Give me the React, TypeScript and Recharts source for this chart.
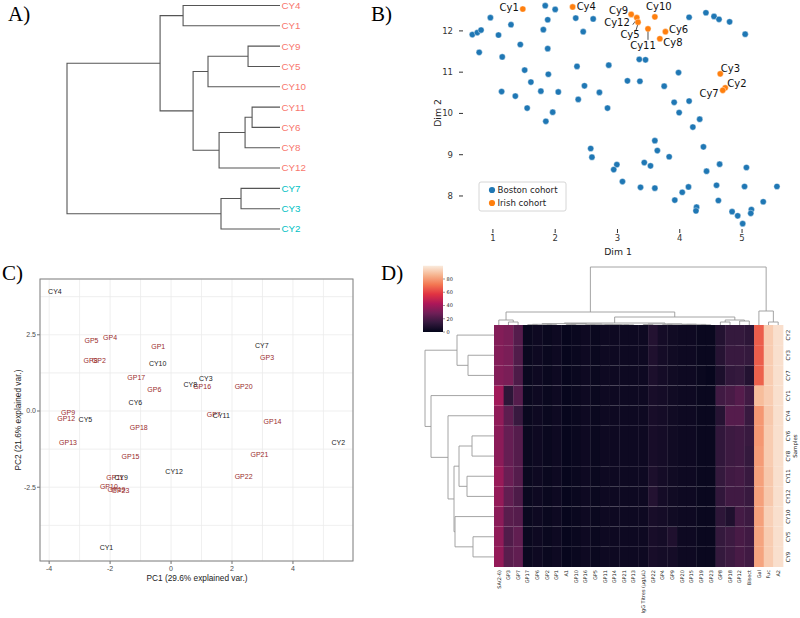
import React from 'react';
import { ScatterChart, Scatter, XAxis, YAxis, CartesianGrid, BarChart, Bar, Cell } from 'recharts';

type Tree = string | { h: number; kids: [Tree, Tree] };
type Pt = { x: number; y: number };
const join = (h: number, a: Tree, b: Tree): Tree => ({ h, kids: [a, b] });

// ---------- A) hierarchical clustering of the samples
const sampleOrder = ['CY4', 'CY1', 'CY9', 'CY5', 'CY10', 'CY11', 'CY6', 'CY8', 'CY12', 'CY7', 'CY3', 'CY2'];
const tealSamples = ['CY7', 'CY3', 'CY2'];
const sampleTree = join(10,
  join(5.63,
    join(4.55, 'CY4', 'CY1'),
    join(4.08,
      join(3.38, join(1.5, 'CY9', 'CY5'), 'CY10'),
      join(2.86, join(1.64, join(1.31, 'CY11', 'CY6'), 'CY8'), 'CY12'))),
  join(2.77, join(1.83, 'CY7', 'CY3'), 'CY2'));

// ---------- B) embedding
const bostonDim1 = [
  0.67, 0.75, 0.81, 0.96, 0.78, 1.09, 1.29, 1.15, 1.44, 1.84,
  2.0, 1.88, 1.81, 1.88, 1.51, 1.89, 1.61, 1.14, 1.36, 1.77,
  2.05, 1.55, 1.96, 1.85, 2.33, 2.61, 2.45, 2.35, 2.86, 2.47,
  2.37, 2.71, 2.84, 3.35, 3.45, 3.16, 3.36, 3.75, 3.98, 4.15,
  4.42, 4.55, 4.63, 4.8, 5.05, 3.91, 4.15, 3.99, 4.32, 4.21,
  2.57, 2.59, 2.99, 2.94, 3.08, 3.6, 3.64, 3.83, 3.43, 3.53,
  3.37, 3.6, 3.92, 4.04, 4.14, 4.38, 4.43, 4.64, 4.59, 4.62,
  4.27, 4.26, 5.07, 5.04, 4.84, 4.93, 5.15, 5.14, 5.01, 5.34, 5.56,
];
const bostonDim2 = [
  11.91, 11.96, 12.02, 12.32, 11.48, 11.9, 12.15, 11.37, 11.67, 12.61,
  12.52, 12.27, 12.03, 11.57, 11.05, 10.95, 10.76, 10.53, 10.42, 10.54,
  10.52, 10.13, 10.03, 9.81, 12.31, 12.29, 11.98, 11.14, 11.17, 10.67,
  10.34, 10.51, 10.13, 11.31, 11.3, 10.79, 10.78, 10.66, 10.99, 12.33,
  12.44, 12.35, 12.28, 12.22, 11.92, 10.27, 10.3, 10.02, 9.86, 9.67,
  9.15, 8.94, 8.76, 8.64, 8.35, 9.34, 9.1, 8.95, 8.81, 8.73,
  8.21, 8.19, 7.9, 8.09, 8.22, 9.19, 8.6, 8.77, 8.26, 7.89,
  7.73, 7.64, 8.69, 8.23, 7.62, 7.52, 7.67, 7.58, 7.33, 7.86, 8.23,
];
const irishNames = ['Cy1', 'Cy4', 'Cy9', 'Cy12', 'Cy5', 'Cy10', 'Cy11', 'Cy6', 'Cy8', 'Cy3', 'Cy2', 'Cy7'];
const irishDim1 = [1.48, 2.28, 3.22, 3.31, 3.33, 3.6, 3.49, 3.77, 3.68, 4.65, 4.73, 4.69];
const irishDim2 = [12.53, 12.58, 12.4, 12.32, 12.21, 12.34, 12.05, 11.98, 11.81, 10.96, 10.62, 10.56];
const dimTicks1 = [1, 2, 3, 4, 5];
const dimTicks2 = [8, 9, 10, 11, 12];

// ---------- C) PCA biplot
const gpNames = ['GP1', 'GP2', 'GP3', 'GP4', 'GP5', 'GP6', 'GP7', 'GP8', 'GP9', 'GP10', 'GP11', 'GP12',
  'GP13', 'GP14', 'GP15', 'GP16', 'GP17', 'GP18', 'GP19', 'GP20', 'GP21', 'GP22', 'GP23'];
const gpPc1 = [-0.42, -2.37, 3.15, -2.0, -2.61, -0.55, 1.4, -2.64, -3.38, -2.04, -1.84, -3.44,
  -3.38, 3.33, -1.33, 1.02, -1.14, -1.06, -1.79, 2.38, 2.9, 2.38, -1.66];
const gpPc2 = [2.13, 1.67, 1.75, 2.42, 2.32, 0.72, -0.1, 1.67, -0.04, -2.47, -2.17, -0.25,
  -1.03, -0.35, -1.51, 0.81, 1.1, -0.54, -2.56, 0.79, -1.43, -2.15, -2.61];
const cyNames = ['CY1', 'CY2', 'CY3', 'CY4', 'CY5', 'CY6', 'CY7', 'CY8', 'CY9', 'CY10', 'CY11', 'CY12'];
const cyPc1 = [-2.12, 5.49, 1.14, -3.81, -2.81, -1.17, 2.98, 0.63, -1.64, -0.44, 1.65, 0.1];
const cyPc2 = [-4.49, -1.02, 1.08, 3.93, -0.28, 0.28, 2.15, 0.86, -2.19, 1.57, -0.16, -1.97];
const pcTicks1 = [-4, -3, -2, -1, 0, 1, 2, 3, 4, 5];
const pcTicks2 = [-3.75, -2.5, -1.25, 0, 1.25, 2.5, 3.75];

// ---------- D) clustered heatmap
const heatCols = ['SA(2-6)', 'GP3', 'GP7', 'GP17', 'GP6', 'GP2', 'GP1', 'A1', 'GP10', 'GP16', 'GP5', 'GP11',
  'GP14', 'GP21', 'GP13', 'IgG Titres (μg/μL)', 'GP22', 'GP4', 'GP9', 'GP20', 'GP15', 'GP19', 'GP23',
  'GP8', 'GP18', 'GP12', 'Bisect', 'Gal', 'Fuc', 'A2'];
const heatRows = ['CY2', 'CY3', 'CY7', 'CY1', 'CY4', 'CY6', 'CY8', 'CY11', 'CY12', 'CY10', 'CY5', 'CY9'];
const heatValues = [
  [33, 31, 22, 2, 3, 2, 3, 1, 2, 3, 2, 3, 3, 3, 3, 3, 9, 5, 4, 3, 3, 2, 2, 9, 14, 14, 12, 66, 92, 97],
  [33, 31, 21, 2, 3, 2, 3, 1, 2, 3, 2, 3, 3, 3, 3, 3, 8, 5, 4, 3, 3, 2, 2, 10, 15, 15, 14, 66, 92, 97],
  [33, 31, 20, 2, 3, 2, 3, 1, 2, 3, 2, 3, 3, 3, 3, 3, 7, 5, 4, 3, 3, 2, 1, 7, 13, 14, 9, 67, 92, 97],
  [40, 12, 22, 2, 3, 2, 3, 1, 2, 3, 2, 3, 3, 3, 3, 3, 6, 5, 4, 3, 3, 2, 2, 17, 19, 22, 17, 88, 92, 97],
  [36, 24, 15, 2, 3, 2, 3, 1, 2, 3, 2, 3, 3, 3, 3, 3, 6, 5, 4, 3, 3, 2, 2, 10, 22, 22, 15, 79, 91, 97],
  [35, 26, 22, 2, 3, 2, 3, 1, 2, 3, 2, 3, 3, 3, 3, 3, 6, 5, 4, 3, 3, 2, 2, 13, 16, 17, 15, 79, 92, 97],
  [35, 26, 22, 2, 3, 2, 3, 1, 2, 3, 2, 3, 3, 3, 3, 3, 6, 5, 4, 3, 3, 2, 2, 13, 16, 17, 14, 80, 92, 97],
  [38, 27, 22, 2, 3, 2, 3, 1, 2, 3, 2, 3, 3, 3, 3, 3, 7, 5, 4, 3, 3, 2, 2, 14, 17, 18, 15, 81, 91, 97],
  [37, 25, 20, 2, 3, 2, 3, 1, 2, 3, 2, 3, 3, 3, 3, 3, 9, 5, 4, 3, 3, 2, 2, 13, 17, 17, 15, 81, 91, 97],
  [35, 23, 22, 2, 3, 2, 3, 1, 2, 3, 2, 3, 3, 3, 3, 3, 6, 5, 4, 3, 3, 2, 2, 12, 8, 18, 16, 81, 93, 97],
  [36, 21, 25, 2, 3, 2, 3, 1, 2, 3, 2, 3, 3, 3, 3, 3, 6, 5, 8, 3, 3, 2, 2, 14, 16, 19, 17, 82, 92, 97],
  [37, 23, 25, 2, 3, 2, 3, 1, 2, 3, 2, 3, 3, 3, 3, 3, 6, 5, 5, 3, 3, 2, 2, 14, 16, 19, 17, 82, 92, 97],
];
const colTree = join(58,
  join(13,
    join(5, 'SA(2-6)', join(3, 'GP3', 'GP7')),
    join(8,
      join(2,
        join(1.4,
          join(0.7, join(0.4, 'GP17', 'GP6'), join(0.3, 'GP2', 'GP1')),
          join(1.0, join(0.5, 'A1', 'GP10'),
            join(0.7, join(0.3, 'GP16', 'GP5'), join(0.5, 'GP11', join(0.3, 'GP14', join(0.2, 'GP21', 'GP13')))))),
        join(1.1, join(0.5, 'IgG Titres (μg/μL)', 'GP22'),
          join(0.8, join(0.3, 'GP4', 'GP9'), join(0.6, join(0.4, 'GP20', 'GP15'), join(0.2, 'GP19', 'GP23'))))),
      join(5, join(3, 'GP8', 'GP18'), join(4, 'GP12', 'Bisect')))),
  join(14, 'Gal', join(3, 'Fuc', 'A2')));
const rowTree = join(69,
  join(37, 'CY2', join(26, 'CY3', 'CY7')),
  join(63, 'CY1',
    join(46, 'CY4',
      join(40,
        join(35, join(22, 'CY6', 'CY8'), join(27, 'CY11', 'CY12')),
        join(39, 'CY10', join(21, 'CY5', 'CY9'))))));
const colorbarTicks = [0, 20, 40, 60, 80];
const rocketStops = ['#03051A', '#35193E', '#701F57', '#AD1759', '#E13342', '#F37651', '#F6B48F', '#FAEBDD'];

// ---------- helpers
function dendroLinks(tree: Tree, order: string[], offset: number, vertical: boolean): Pt[][] {
  const links: Pt[][] = [];
  const walk = (t: Tree): { h: number; p: number } => {
    if (typeof t === 'string') return { h: 0, p: order.indexOf(t) + offset };
    const a = walk(t.kids[0]);
    const b = walk(t.kids[1]);
    const raw = [[a.p, a.h], [a.p, t.h], [b.p, t.h], [b.p, b.h]];
    links.push(raw.map(([p, h]) => (vertical ? { x: p, y: h } : { x: h, y: p })));
    return { h: t.h, p: (a.p + b.p) / 2 };
  };
  walk(tree);
  return links;
}

const hex = (c: string) => [1, 3, 5].map((i) => parseInt(c.slice(i, i + 2), 16));
function rocket(t: number) {
  const u = Math.max(0, Math.min(1, t)) * (rocketStops.length - 1);
  const i = Math.min(Math.floor(u), rocketStops.length - 2);
  const f = u - i;
  const a = hex(rocketStops[i]);
  const b = hex(rocketStops[i + 1]);
  const m = a.map((v, k) => Math.round(v + (b[k] - v) * f));
  return `rgb(${m[0]},${m[1]},${m[2]})`;
}

const noDot = () => <g />;
const SANS = 'Liberation Sans, Arial, sans-serif';
const DJV = 'DejaVu Sans, sans-serif';

const sampleLinks = dendroLinks(sampleTree, sampleOrder, 0, false);
const sampleLeaves = sampleOrder.map((name, i) => ({ x: 0, y: i, name }));
const bostonData = bostonDim1.map((x, i) => ({ x, y: bostonDim2[i] }));
const irishData = irishNames.map((name, i) => ({ x: irishDim1[i], y: irishDim2[i], name }));
const gpData = gpNames.map((name, i) => ({ x: gpPc1[i], y: gpPc2[i], name }));
const cyData = cyNames.map((name, i) => ({ x: cyPc1[i], y: cyPc2[i], name }));
const colLinks = dendroLinks(colTree, heatCols, 0.5, true);
const rowLinks = dendroLinks(rowTree, heatRows, 0.5, false);
const rowsBottomUp = [...heatRows].reverse();
const heatTable = heatCols.map((name) => ({ name, ...Object.fromEntries(heatRows.map((r) => [r, 1])) }));

// where each Irish label sits relative to its point
const irishLabelPlace: Record<string, { dx: number; dy: number; anchor: 'start' | 'middle' | 'end'; lead?: number[] }> = {
  Cy1: { dx: -4, dy: -2, anchor: 'end' },
  Cy4: { dx: 4, dy: 0, anchor: 'start' },
  Cy9: { dx: -3, dy: -4, anchor: 'end' },
  Cy12: { dx: -7, dy: 5.3, anchor: 'end', lead: [-1, 3, -4, 7] },
  Cy5: { dx: -8, dy: 12, anchor: 'middle', lead: [-0.5, 3, -2, 8] },
  Cy10: { dx: 4, dy: -10, anchor: 'middle' },
  Cy11: { dx: -5, dy: 17, anchor: 'middle', lead: [0, 3, 0, 11] },
  Cy6: { dx: 3.5, dy: -2, anchor: 'start' },
  Cy8: { dx: 3.5, dy: 3.7, anchor: 'start' },
  Cy3: { dx: 0.5, dy: -5.7, anchor: 'start' },
  Cy2: { dx: 2, dy: -4.3, anchor: 'start' },
  Cy7: { dx: -4, dy: 3.3, anchor: 'end' },
};

const IrishDot = (p: any) => {
  const s = irishLabelPlace[p.payload.name];
  return (
    <g>
      <circle cx={p.cx} cy={p.cy} r={3.1} fill="#ff7f0e" stroke="#fff" strokeWidth={0.4} />
      {s.lead && (
        <line x1={p.cx + s.lead[0]} y1={p.cy + s.lead[1]} x2={p.cx + s.lead[2]} y2={p.cy + s.lead[3]} stroke="#222" strokeWidth={0.8} />
      )}
      <text x={p.cx + s.dx} y={p.cy + s.dy} dy="0.35em" textAnchor={s.anchor} fontSize={10} fontFamily={DJV} fill="#111">
        {p.payload.name}
      </text>
    </g>
  );
};

const PcXTick = (p: any) => {
  const v = p.payload.value;
  if (v % 2 !== 0) return <g />;
  return (
    <g>
      <line x1={p.x} x2={p.x} y1={p.y - 5} y2={p.y - 2} stroke="#333" strokeWidth={0.7} />
      <text x={p.x} y={p.y} dy="0.71em" textAnchor="middle" fontSize={7} fill="#4d4d4d" fontFamily={SANS}>{v}</text>
    </g>
  );
};
const PcYTick = (p: any) => {
  const v = p.payload.value;
  if (Math.abs(v % 2.5) > 1e-9) return <g />;
  return (
    <g>
      <line x1={p.x + 2} x2={p.x + 5} y1={p.y} y2={p.y} stroke="#333" strokeWidth={0.7} />
      <text x={p.x + 1} y={p.y} dy="0.35em" textAnchor="end" fontSize={7} fill="#4d4d4d" fontFamily={SANS}>{v.toFixed(1)}</text>
    </g>
  );
};
const HeatColTick = (p: any) => (
  <text x={p.x} y={p.y} transform={`rotate(-90 ${p.x} ${p.y})`} dy="0.35em" textAnchor="end" fontSize={5} fill="#222" fontFamily={DJV}>
    {p.payload.value}
  </text>
);
const HeatRowTick = (p: any) => {
  const name = rowsBottomUp[Math.floor(p.payload.value)];
  const x = p.x + 2;
  return (
    <text x={x} y={p.y} transform={`rotate(-90 ${x} ${p.y})`} dy="0.35em" textAnchor="middle" fontSize={5.5} fill="#222" fontFamily={DJV}>
      {name}
    </text>
  );
};

const box = (left: number, top: number): React.CSSProperties => ({ position: 'absolute', left, top });

export default function App() {
  return (
    <div style={{ position: 'absolute', left: 0, top: 0, width: 800, height: 618, background: '#fff', overflow: 'hidden' }}>
      {/* A */}
      <div style={box(0, 0)}>
        <ScatterChart width={400} height={245} margin={{ top: 5.5, right: 120, bottom: 16, left: 67 }}>
          <XAxis type="number" dataKey="x" domain={[0, 10]} reversed hide />
          <YAxis type="number" dataKey="y" domain={[0, 11]} reversed hide />
          {sampleLinks.map((pts, i) => (
            <Scatter key={'a' + i} data={pts} fill="none" shape={noDot} line={{ stroke: '#555', strokeWidth: 1.1 }} isAnimationActive={false} />
          ))}
          <Scatter
            data={sampleLeaves}
            isAnimationActive={false}
            shape={(p: any) => (
              <text x={p.cx + 1.5} y={p.cy} dy="0.35em" fontSize={9.8} fontFamily={SANS}
                fill={tealSamples.includes(p.payload.name) ? '#00BFC4' : '#F8766D'}>
                {p.payload.name}
              </text>
            )}
          />
        </ScatterChart>
      </div>

      {/* B */}
      <div style={box(400, 0)}>
        <ScatterChart width={400} height={262} margin={{ top: 2, right: 5, bottom: 13, left: 23 }}>
          <XAxis type="number" dataKey="x" domain={[0.52, 5.85]} ticks={dimTicks1} height={20} axisLine={false}
            tickSize={4} tickMargin={2} tickLine={{ stroke: '#333' }} tick={{ fontSize: 8.5, fill: '#333', fontFamily: DJV }} />
          <YAxis type="number" dataKey="y" domain={[7.2, 12.7]} ticks={dimTicks2} width={40} axisLine={false}
            tickSize={4} tickMargin={6} tickLine={{ stroke: '#333' }} tick={{ fontSize: 8.5, fill: '#333', fontFamily: DJV }} />
          <Scatter data={bostonData} isAnimationActive={false}
            shape={(p: any) => <circle cx={p.cx} cy={p.cy} r={3.1} fill="#1f77b4" stroke="#fff" strokeWidth={0.4} />} />
          <Scatter data={irishData} isAnimationActive={false} shape={IrishDot} />
        </ScatterChart>
      </div>

      {/* C */}
      <div style={box(0, 270)}>
        <ScatterChart width={370} height={320} margin={{ top: 9, right: 17, bottom: 14, left: 15 }}>
          <CartesianGrid stroke="#ebebeb" strokeWidth={0.8} />
          <XAxis type="number" dataKey="x" domain={[-4.3, 5.97]} ticks={pcTicks1} interval={0} height={15}
            axisLine={false} tickLine={false} tickSize={3} tickMargin={2} tick={<PcXTick />} />
          <YAxis type="number" dataKey="y" domain={[-4.92, 4.33]} ticks={pcTicks2} interval={0} width={25}
            axisLine={false} tickLine={false} tickSize={3} tickMargin={2} tick={<PcYTick />} />
          <Scatter data={gpData} isAnimationActive={false}
            shape={(p: any) => (
              <text x={p.cx} y={p.cy} dy="0.35em" textAnchor="middle" fontSize={7} fontFamily={SANS} fill="#9b2c2c">
                {p.payload.name}
              </text>
            )} />
          <Scatter data={cyData} isAnimationActive={false}
            shape={(p: any) => (
              <text x={p.cx} y={p.cy} dy="0.35em" textAnchor="middle" fontSize={7} fontFamily={SANS} fill="#1a1a1a">
                {p.payload.name}
              </text>
            )} />
        </ScatterChart>
      </div>

      {/* D: column dendrogram */}
      <div style={box(480, 255)}>
        <ScatterChart width={320} height={75} margin={{ top: 12, right: 17, bottom: 5, left: 14 }}>
          <XAxis type="number" dataKey="x" domain={[0, heatCols.length]} hide />
          <YAxis type="number" dataKey="y" domain={[0, 58]} hide />
          {colLinks.map((pts, i) => (
            <Scatter key={'c' + i} data={pts} fill="none" shape={noDot} line={{ stroke: '#9a9a9a', strokeWidth: 0.9 }} isAnimationActive={false} />
          ))}
        </ScatterChart>
      </div>

      {/* D: row dendrogram */}
      <div style={box(415, 320)}>
        <ScatterChart width={85} height={252} margin={{ top: 5, right: 6, bottom: 5, left: 10 }}>
          <XAxis type="number" dataKey="x" domain={[0, 69]} reversed hide />
          <YAxis type="number" dataKey="y" domain={[0, heatRows.length]} reversed hide />
          {rowLinks.map((pts, i) => (
            <Scatter key={'r' + i} data={pts} fill="none" shape={noDot} line={{ stroke: '#9a9a9a', strokeWidth: 0.9 }} isAnimationActive={false} />
          ))}
        </ScatterChart>
      </div>

      {/* D: heatmap */}
      <div style={box(480, 300)}>
        <BarChart width={320} height={318} data={heatTable} margin={{ top: 25, right: 7, bottom: 6, left: 14 }} barCategoryGap={0} barGap={0}>
          <XAxis dataKey="name" type="category" interval={0} height={45} axisLine={false} tickLine={false}
            tickSize={2} tickMargin={1} tick={<HeatColTick />} />
          <YAxis orientation="right" type="number" domain={[0, heatRows.length]} ticks={rowsBottomUp.map((_, k) => k + 0.5)}
            interval={0} width={10} axisLine={false} tickLine={false} tickSize={2} tickMargin={1} tick={<HeatRowTick />} />
          {rowsBottomUp.map((row) => {
            const ri = heatRows.indexOf(row);
            return (
              <Bar key={row} dataKey={row} stackId="heat" isAnimationActive={false}>
                {heatCols.map((c, j) => (
                  <Cell key={c} fill={rocket(heatValues[ri][j] / 100)} stroke="rgba(255,255,255,0.025)" strokeWidth={0.4} />
                ))}
              </Bar>
            );
          })}
        </BarChart>
      </div>

      {/* titles, legends and frames */}
      <svg width={800} height={618} style={{ position: 'absolute', left: 0, top: 0, pointerEvents: 'none' }}>
        <defs>
          <linearGradient id="rocketGrad" x1="0" y1="1" x2="0" y2="0">
            {rocketStops.map((c, i) => (
              <stop key={i} offset={i / (rocketStops.length - 1)} stopColor={c} />
            ))}
          </linearGradient>
        </defs>
        <g fontFamily="Liberation Serif, Times New Roman, serif" fontSize={21} fill="#000">
          <text x={8} y={21}>A)</text>
          <text x={371} y={21}>B)</text>
          <text x={2} y={280}>C)</text>
          <text x={381} y={280}>D)</text>
        </g>

        {/* B */}
        <text x={618} y={252} dy="0.35em" textAnchor="middle" fontSize={9.3} fontFamily={DJV} fill="#222">Dim 1</text>
        <text x={438} y={113} dy="0.35em" textAnchor="middle" fontSize={9.3} fontFamily={DJV} fill="#222" transform="rotate(-90 438 113)">Dim 2</text>
        <rect x={479} y={182} width={87} height={29} rx={2} fill="#fff" fillOpacity={0.85} stroke="#ccc" strokeWidth={0.8} />
        <circle cx={492} cy={190} r={3.1} fill="#1f77b4" />
        <text x={497.5} y={190} dy="0.35em" fontSize={8.6} fontFamily={DJV} fill="#222">Boston cohort</text>
        <circle cx={492} cy={203} r={3.1} fill="#ff7f0e" />
        <text x={497.5} y={203} dy="0.35em" fontSize={8.6} fontFamily={DJV} fill="#222">Irish cohort</text>

        {/* C */}
        <rect x={40} y={279} width={313} height={282} fill="none" stroke="#808080" strokeWidth={1} />
        <text x={197} y={578} dy="0.35em" textAnchor="middle" fontSize={8.3} fontFamily={SANS} fill="#222">PC1 (29.6% explained var.)</text>
        <text x={18} y={420} dy="0.35em" textAnchor="middle" fontSize={8.3} fontFamily={SANS} fill="#222" transform="rotate(-90 18 420)">PC2 (21.6% explained var.)</text>

        {/* D */}
        <rect x={423} y={265.75} width={20} height={66.25} fill="url(#rocketGrad)" />
        {colorbarTicks.map((v) => {
          const y = 332 - v * 0.6625;
          return (
            <g key={v}>
              <line x1={443} x2={445} y1={y} y2={y} stroke="#333" strokeWidth={0.5} />
              <text x={446.5} y={y} dy="0.35em" fontSize={5} fontFamily={DJV} fill="#222">{v}</text>
            </g>
          );
        })}
        <text x={795} y={446} dy="0.35em" textAnchor="middle" fontSize={5.5} fontFamily={DJV} fill="#222" transform="rotate(-90 795 446)">Samples</text>
      </svg>
    </div>
  );
}
